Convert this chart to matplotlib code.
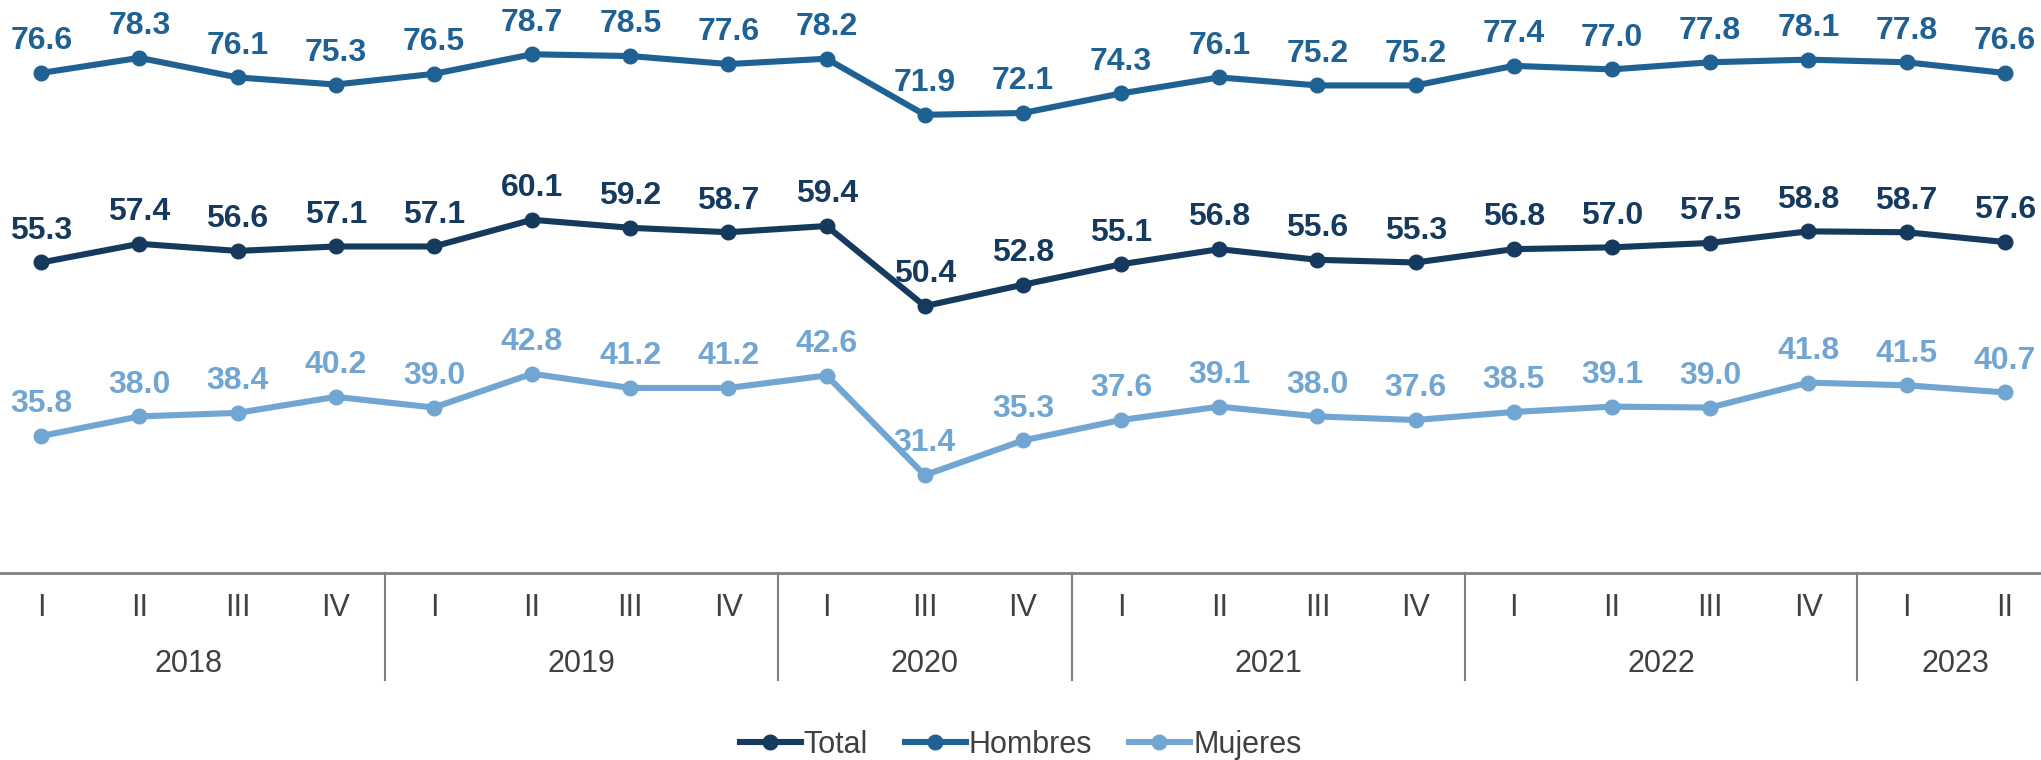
import numpy as np
import matplotlib
matplotlib.use('Agg')
import matplotlib.pyplot as plt
import matplotlib.transforms as mtransforms
from matplotlib.lines import Line2D

plt.rcParams['font.family'] = ['Liberation Sans Narrow', 'Liberation Sans', 'DejaVu Sans']

# data
quarters = ['I', 'II', 'III', 'IV', 'I', 'II', 'III', 'IV', 'I', 'III', 'IV',
            'I', 'II', 'III', 'IV', 'I', 'II', 'III', 'IV', 'I', 'II']
years = ['2018', '2019', '2020', '2021', '2022', '2023']
year_counts = [4, 4, 3, 4, 4, 2]
total = [55.3, 57.4, 56.6, 57.1, 57.1, 60.1, 59.2, 58.7, 59.4, 50.4, 52.8,
         55.1, 56.8, 55.6, 55.3, 56.8, 57.0, 57.5, 58.8, 58.7, 57.6]
hombres = [76.6, 78.3, 76.1, 75.3, 76.5, 78.7, 78.5, 77.6, 78.2, 71.9, 72.1,
           74.3, 76.1, 75.2, 75.2, 77.4, 77.0, 77.8, 78.1, 77.8, 76.6]
mujeres = [35.8, 38.0, 38.4, 40.2, 39.0, 42.8, 41.2, 41.2, 42.6, 31.4, 35.3,
           37.6, 39.1, 38.0, 37.6, 38.5, 39.1, 39.0, 41.8, 41.5, 40.7]

series = [('Total', total, '#163a5e'),
          ('Hombres', hombres, '#1f6193'),
          ('Mujeres', mujeres, '#72a6d2')]

fig = plt.figure(figsize=(20.41, 7.6), dpi=100)
ax = fig.add_axes([0, 0.246, 1, 0.754])
x = np.arange(len(quarters))

for name, vals, col in series:
    ax.plot(x, vals, color=col, lw=4.4, marker='o', markersize=10.5, label=name,
            solid_joinstyle='round', zorder=3)
    for xi, v in zip(x, vals):
        ax.annotate('%.1f' % v, (xi, v), xytext=(0, 12), textcoords='offset points',
                    ha='center', va='bottom', fontsize=23, fontweight='bold', color=col)

ax.set_xlim(-0.42, 20.37)
ax.set_ylim(20.4, 84.8)
for s in ['top', 'right', 'left']:
    ax.spines[s].set_visible(False)
ax.spines['bottom'].set_color('#808080')
ax.spines['bottom'].set_linewidth(2)
ax.set_yticks([])
ax.set_xticks([])

trans = mtransforms.blended_transform_factory(ax.transData, ax.transAxes)
for xi, q in zip(x, quarters):
    ax.text(xi, -0.061, q, transform=trans, ha='center', va='center',
            fontsize=22, color='#404040')

start = 0
for i, (yr, n) in enumerate(zip(years, year_counts)):
    mid = start + (n - 1) / 2
    ax.text(mid, -0.159, yr, transform=trans, ha='center', va='center',
            fontsize=22, color='#404040')
    if i > 0:
        ax.plot([start - 0.5, start - 0.5], [0, -0.187], transform=trans,
                color='#808080', lw=1.5, clip_on=False)
    start += n

handles = [Line2D([0], [0], color=c, lw=4.4, marker='o', markersize=10.5) for _, _, c in series]
fig.legend(handles, [n for n, _, _ in series], loc='center', bbox_to_anchor=(0.5, 0.02),
           ncol=3, frameon=False, fontsize=22, handlelength=2.0, handletextpad=0.1,
           columnspacing=1.2, labelcolor='#404040')

fig.savefig('out.png', dpi=100)
